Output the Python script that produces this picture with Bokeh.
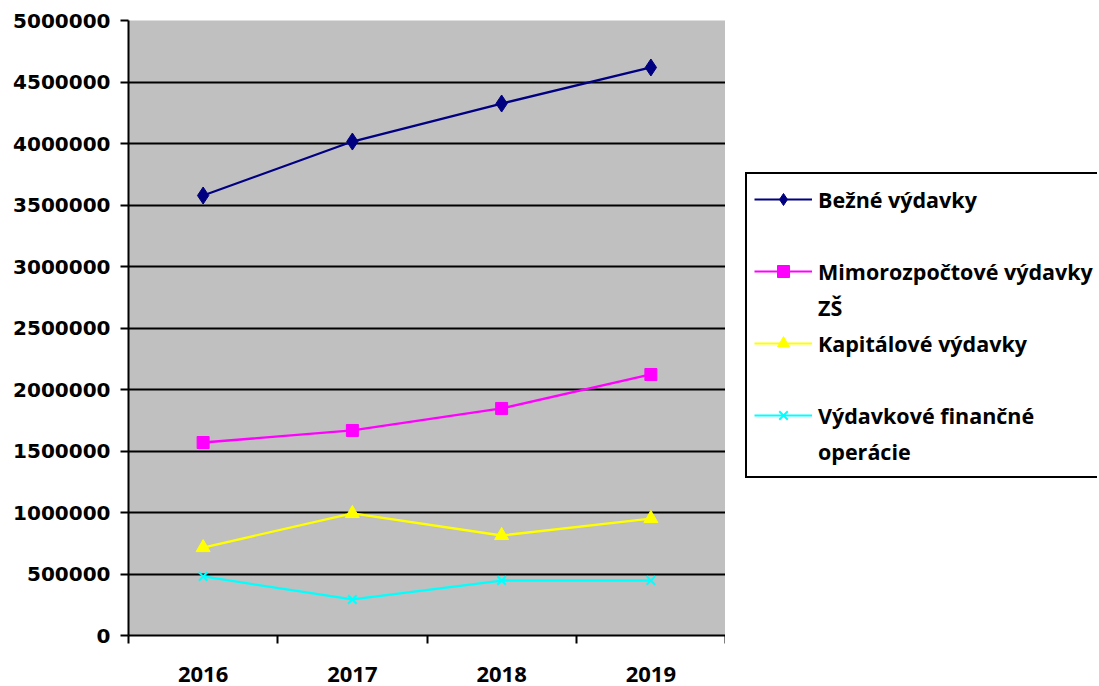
from bokeh.plotting import figure
from bokeh.layouts import row
from bokeh.models import (Range1d, FixedTicker, NumeralTickFormatter, Legend, LegendItem)
from bokeh.embed import file_html
from bokeh.resources import INLINE

years = ["2016", "2017", "2018", "2019"]
bezne = [3577000, 4016000, 4325000, 4618000]
mimo = [1569000, 1667000, 1846000, 2122000]
kapital = [715000, 992000, 813000, 951000]
financne = [480000, 293000, 447000, 447000]

names = ["Bežné výdavky", "Mimorozpočtové výdavky", "ZŠ",
         "Kapitálové výdavky", "Výdavkové finančné", "operácie"]
y_ticks = list(range(0, 5000001, 500000))

colors = ["#000080", "#FF00FF", "#FFFF00", "#00FFFF"]
markers = ["diamond", "square", "triangle", "x"]
sizes = [17, 12, 14, 12]
series = [bezne, mimo, kapital, financne]

xs = [i + 0.5 for i in range(len(years))]

p = figure(width=725, height=686, output_backend="svg", toolbar_location=None,
           x_range=Range1d(0, len(years)), y_range=Range1d(0, 5000000),
           min_border_left=128, min_border_top=20, min_border_bottom=51,
           min_border_right=0)
p.background_fill_color = "#C0C0C0"
p.border_fill_color = "white"
p.outline_line_color = None

p.xgrid.visible = False
p.ygrid.grid_line_color = "black"
p.ygrid.grid_line_width = 2
p.ygrid.ticker = FixedTicker(ticks=y_ticks)

p.yaxis.ticker = FixedTicker(ticks=y_ticks)
p.yaxis.formatter = NumeralTickFormatter(format="0")
p.yaxis.major_tick_out = 8
p.yaxis.major_tick_in = 0
p.yaxis.minor_tick_out = 0
p.yaxis.minor_tick_in = 0
p.yaxis.axis_line_width = 2
p.yaxis.major_tick_line_width = 2
p.yaxis.major_label_standoff = 10
p.yaxis.major_label_text_font = "DejaVu Sans"
p.yaxis.major_label_text_font_style = "bold"
p.yaxis.major_label_text_font_size = "20px"
p.yaxis.major_label_text_color = "black"

p.xaxis.ticker = FixedTicker(ticks=xs, minor_ticks=list(range(len(years) + 1)))
p.xaxis.major_label_overrides = {x: y for x, y in zip(xs, years)}
p.xaxis.major_tick_out = 0
p.xaxis.major_tick_in = 0
p.xaxis.minor_tick_out = 8
p.xaxis.minor_tick_in = 0
p.xaxis.minor_tick_line_width = 2
p.xaxis.minor_tick_line_color = "black"
p.xaxis.axis_line_width = 2
p.xaxis.major_label_standoff = 23
p.xaxis.major_label_text_font = "Open Sans"
p.xaxis.major_label_text_font_style = "bold"
p.xaxis.major_label_text_font_size = "22px"
p.xaxis.major_label_text_color = "black"

# legend panel as a separate figure (no axes)
q = figure(width=372, height=686, output_backend="svg", toolbar_location=None,
           x_range=Range1d(0, 1), y_range=Range1d(0, 1),
           min_border=0, x_axis_location=None, y_axis_location=None)
q.grid.visible = False
q.outline_line_color = None
q.background_fill_color = "white"
q.border_fill_color = "white"

legend_sets = []
for ser, c, mk, sz in zip(series, colors, markers, sizes):
    p.line(xs, ser, line_color=c, line_width=2.3)
    if mk == "x":
        p.scatter(xs, ser, marker=mk, size=sz, line_color=c, line_width=2)
        qm = q.scatter(xs, ser, marker=mk, size=sz, line_color=c, line_width=2, visible=False)
    else:
        p.scatter(xs, ser, marker=mk, size=sz, color=c)
        qm = q.scatter(xs, ser, marker=mk, size=sz, color=c, visible=False)
    ql = q.line(xs, ser, line_color=c, line_width=2, visible=False)
    legend_sets.append([ql, qm])
blank = q.line(xs, bezne, line_alpha=0, visible=False)

items = [
    LegendItem(label=names[0], renderers=legend_sets[0]),
    LegendItem(label=" ", renderers=[blank]),
    LegendItem(label=names[1], renderers=legend_sets[1]),
    LegendItem(label=names[2], renderers=[blank]),
    LegendItem(label=names[3], renderers=legend_sets[2]),
    LegendItem(label="  ", renderers=[blank]),
    LegendItem(label=names[4], renderers=legend_sets[3]),
    LegendItem(label=names[5], renderers=[blank]),
]
legend = Legend(items=items, location=(20, 157))
legend.label_text_font = "Open Sans"
legend.label_text_font_style = "bold"
legend.label_text_font_size = "21.5px"
legend.label_text_color = "black"
legend.glyph_width = 58
legend.glyph_height = 30
legend.label_height = 36
legend.label_standoff = 6
legend.spacing = 0
legend.padding = 7
legend.margin = 0
legend.border_line_color = "black"
legend.border_line_alpha = 1
legend.border_line_width = 2
legend.background_fill_color = "white"
legend.background_fill_alpha = 1
q.add_layout(legend, "center")

layout = row(p, q)
open("out.html", "w").write(file_html(layout, INLINE))
